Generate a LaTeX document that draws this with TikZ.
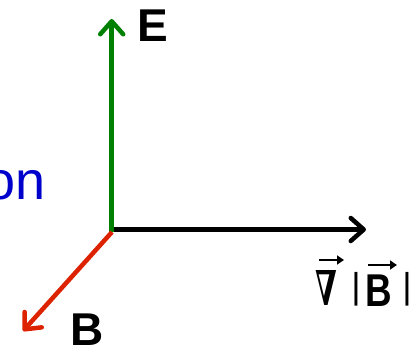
\documentclass[tikz,border=0pt]{standalone}
\usepackage{fontspec}
\setmainfont{Liberation Sans}
\newfontfamily\nabfont{DejaVu Serif}
\usepackage{graphicx}
\usetikzlibrary{arrows.meta}
\definecolor{axgreen}{RGB}{0,128,0}
\definecolor{axred}{RGB}{221,34,0}
\definecolor{txtblue}{RGB}{0,0,204}
\tikzset{
  axis/.style={line width=4.5bp, line cap=butt,
    -{Straight Barb[length=13bp,width=23bp,line cap=round,line join=round]}},
  lbl/.style={inner sep=0pt, outer sep=0pt, anchor=base west, font=\fontsize{46bp}{46bp}\selectfont\bfseries},
  vecarrow/.style={line width=2.5bp, -{Triangle[length=7bp,width=9bp]}},
  barlbl/.style={inner sep=0pt, outer sep=0pt, anchor=base, font=\fontsize{36bp}{36bp}\selectfont}
}
\begin{document}
\begin{tikzpicture}[x=1bp,y=-1bp]
\useasboundingbox (0,0) rectangle (417,348);
\clip (0,0) rectangle (417,348);
\coordinate (Og) at (111.7,231.7);
\coordinate (Ob) at (114,229.5);
\coordinate (Or) at (112,232);
\coordinate (tE) at (111.7,19);
\coordinate (tX) at (366,229.5);
\coordinate (tB) at (23,331);
\draw[axis, draw=axgreen] (Og) -- (tE);
\draw[axis, draw=black] (Ob) -- (tX);
\draw[axis, draw=axred] (Or) -- (tB);
\node[lbl] (E) at (137.6,41) {E};
\node[lbl] (B) at (70.6,345) {B};
\node[inner sep=0pt, anchor=base east, text=txtblue, font=\fontsize{54bp}{54bp}\selectfont] (dir) at (45.6,199) {on};
\node[inner sep=0pt, anchor=base west] (nab) at (315,305.5) {\scalebox{0.6}[1]{\fontsize{48bp}{48bp}\selectfont\nabfont\bfseries ∇}};
\node[barlbl] (bar1) at (356,298.5) {|};
\node[lbl, font=\fontsize{46bp}{46bp}\selectfont\bfseries] (gB) at (365.5,306) {\scalebox{0.8}[1]{B}};
\node[barlbl] (bar2) at (407,298.5) {|};
\coordinate (va1) at (319,260);
\coordinate (va2) at (344,260);
\coordinate (vb1) at (368,265);
\coordinate (vb2) at (397,265);
\draw[vecarrow] (va1) -- (va2);
\draw[vecarrow] (vb1) -- (vb2);
\end{tikzpicture}
\end{document}
